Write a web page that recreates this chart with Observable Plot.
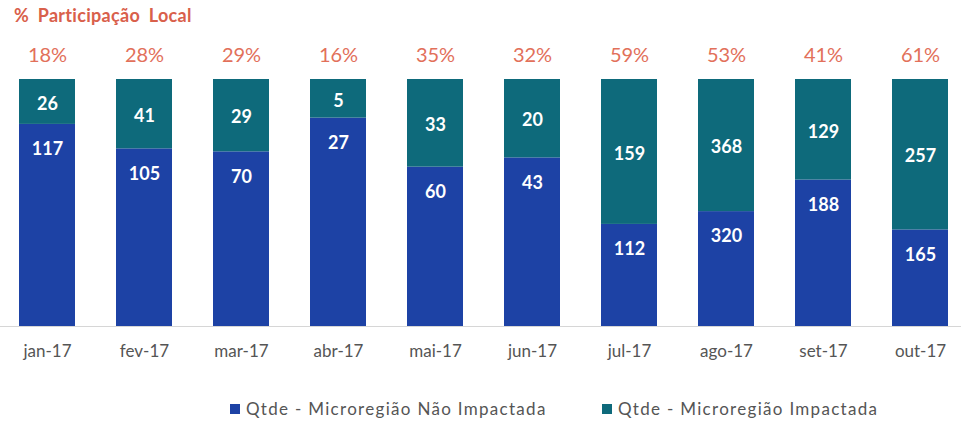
<!DOCTYPE html>
<html>
<head>
<meta charset="utf-8">
<script src="https://cdn.jsdelivr.net/npm/d3@7"></script>
<script src="https://cdn.jsdelivr.net/npm/@observablehq/plot@0.6"></script>
<style>
  html, body { margin: 0; padding: 0; background: #fff; }
  body { width: 961px; height: 425px; position: relative; overflow: hidden; font-family: Lato, "Open Sans", sans-serif; }
  #title { position: absolute; left: 14px; top: 4px; font-size: 18px; font-weight: bold; color: #d9604b; letter-spacing: 0.3px; word-spacing: 4px; }
  #chart { position: absolute; left: 0; top: 0; }
  #legend { position: absolute; top: 398px; left: 0; width: 961px; font-size: 17px; color: #555; letter-spacing: 1.3px; }
  .item { position: absolute; top: 0; white-space: nowrap; display: flex; align-items: center; }
  .sw { width: 10px; height: 10px; margin-right: 6px; display: inline-block; }
</style>
</head>
<body>
<div id="chart"></div>
<div id="title">% Participação Local</div>
<div id="legend"></div>
<script>
const months = ["jan-17","fev-17","mar-17","abr-17","mai-17","jun-17","jul-17","ago-17","set-17","out-17"];
const naoImpactada = [117, 105, 70, 27, 60, 43, 112, 320, 188, 165];
const impactada = [26, 41, 29, 5, 33, 20, 159, 368, 129, 257];
const pctLabels = ["18%","28%","29%","16%","35%","32%","59%","53%","41%","61%"];
const seriesNames = ["Qtde - Microregião Não Impactada", "Qtde - Microregião Impactada"];
const seriesColors = ["#1d42a5", "#0e6a7b"];

const rows = [];
months.forEach((m, i) => {
  rows.push({month: m, serie: seriesNames[0], value: naoImpactada[i]});
  rows.push({month: m, serie: seriesNames[1], value: impactada[i]});
});
const tops = months.map((m, i) => ({month: m, label: pctLabels[i]}));
const blueLabels = months.map((m, i) => ({month: m, v: naoImpactada[i], f: naoImpactada[i] / (naoImpactada[i] + impactada[i])}));
const tealLabels = months.map((m, i) => ({month: m, v: impactada[i], f: (naoImpactada[i] + impactada[i] / 2) / (naoImpactada[i] + impactada[i])}));

const chart = Plot.plot({
  width: 961,
  height: 425,
  marginTop: 79,
  marginBottom: 99,
  marginLeft: 0,
  marginRight: 0,
  style: {fontFamily: "Lato, 'Open Sans', sans-serif", background: "transparent"},
  x: {domain: months, range: [-5.5, 973.5], paddingInner: 0.42, paddingOuter: 0.21, label: null},
  y: {domain: [0, 1], axis: null},
  color: {domain: seriesNames, range: seriesColors},
  marks: [
    Plot.ruleY([0], {stroke: "#d6d6d6", strokeWidth: 1.2}),
    Plot.barY(rows, Plot.stackY({x: "month", y: "value", fill: "serie", offset: "normalize"})),
    Plot.axisX({tickSize: 0, tickPadding: 18, fontSize: 17, fill: "#555", style: {letterSpacing: "1.2px"}}),
    Plot.text(tops, {x: "month", y: () => 1, text: "label", dy: -24, fontSize: 20, fill: "#e2705a"}),
    Plot.text(tealLabels, {x: "month", y: "f", text: d => String(d.v), dy: 2, fontSize: 18, fontWeight: "bold", fill: "#fff"}),
    Plot.text(blueLabels, {x: "month", y: "f", text: d => String(d.v), dy: 25, fontSize: 18, fontWeight: "bold", fill: "#fff"})
  ]
});
document.getElementById("chart").appendChild(chart);

const legend = document.getElementById("legend");
const lefts = [230, 602];
seriesNames.forEach((n, i) => {
  const it = document.createElement("div");
  it.className = "item";
  it.style.left = lefts[i] + "px";
  const sw = document.createElement("span");
  sw.className = "sw";
  sw.style.background = seriesColors[i];
  it.appendChild(sw);
  it.appendChild(document.createTextNode(n));
  legend.appendChild(it);
});
</script>
</body>
</html>
